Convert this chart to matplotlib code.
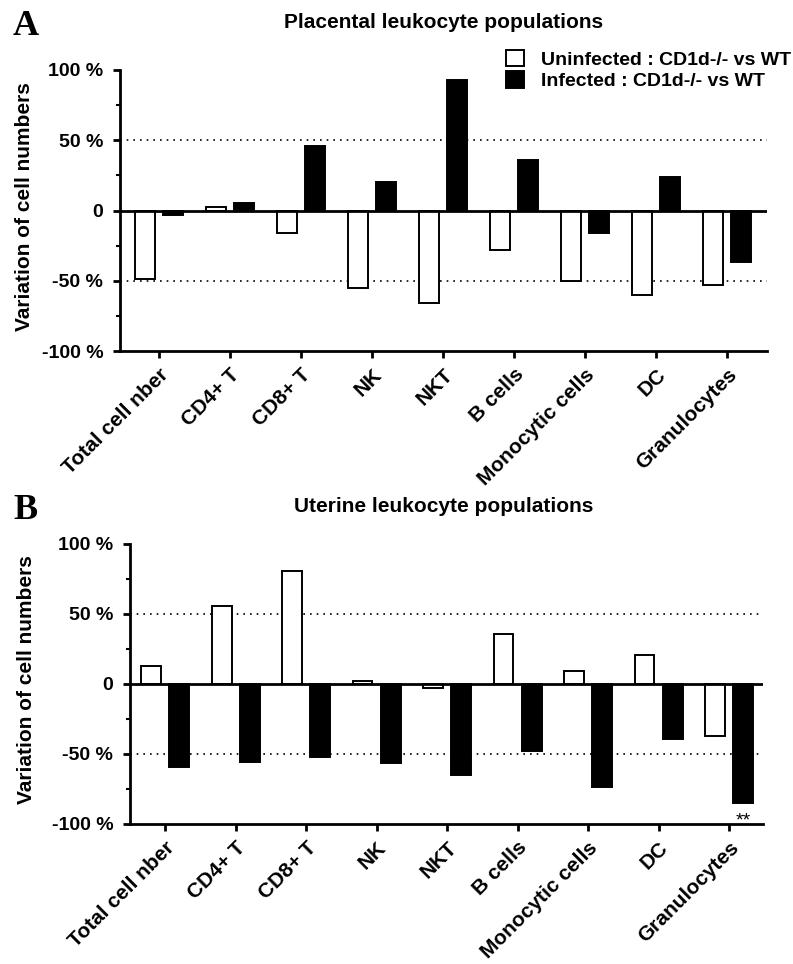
import matplotlib
matplotlib.use("Agg")
import matplotlib.pyplot as plt
import numpy as np

# categories and values (% variation CD1d-/- vs WT)
categories = ["Total cell nber", "CD4+ T", "CD8+ T", "NK", "NKT",
              "B cells", "Monocytic cells", "DC", "Granulocytes"]

placenta_uninf = [-49, 2.5, -16, -55, -66, -28, -50, -60, -53]
placenta_inf = [-3, 5, 46, 20, 93, 36, -16, 23.5, -37]

uterus_uninf = [13, 56, 81, 2, -3, 36, 9, 21, -37]
uterus_inf = [-59.5, -55.5, -52, -56.5, -65, -47.5, -73.5, -39, -85]

yticks = [-100, -50, 0, 50, 100]
ytick_labels = ["-100 %", "-50 %", "0", "50 %", "100 %"]

SANS = ["Liberation Sans", "DejaVu Sans"]
SERIF = ["Liberation Serif", "DejaVu Serif"]

plt.rcParams["font.family"] = SANS

W, H = 793, 964


def draw_panel(ax, uninf, inf, xlim):
    x = np.arange(len(categories))
    w = 0.28
    ax.bar(x - 0.2, uninf, w, color="white", edgecolor="black",
           linewidth=1.4, zorder=3, label="Uninfected : CD1d-/- vs WT")
    ax.bar(x + 0.2, inf, w, color="black", edgecolor="black",
           linewidth=1.4, zorder=3, label="Infected : CD1d-/- vs WT")

    ax.axhline(0, color="black", lw=2.0, zorder=4)
    for yv in (50, -50):
        ax.axhline(yv, color="black", lw=1.2, ls=(0, (1, 3)), zorder=1)

    ax.set_ylim(-100, 100)
    ax.set_xlim(*xlim)
    ax.set_yticks(yticks)
    ax.set_yticklabels(ytick_labels, fontsize=14, fontweight="bold")
    ax.set_yticks(np.arange(-75, 100, 50), minor=True)
    ax.set_xticks(x)
    ax.set_xticklabels(categories, rotation=45, ha="right",
                       rotation_mode="anchor", fontsize=15,
                       fontweight="bold")

    ax.tick_params(axis="y", which="major", direction="out", length=5,
                   width=2, pad=7)
    ax.tick_params(axis="x", which="major", direction="out", length=5,
                   width=2, pad=5)
    ax.tick_params(axis="y", which="minor", direction="out", length=3,
                   width=1.5)
    for s in ("top", "right"):
        ax.spines[s].set_visible(False)
    for s in ("left", "bottom"):
        ax.spines[s].set_linewidth(2.0)

    ax.set_ylabel("Variation of cell numbers", fontsize=15,
                  fontweight="bold")


fig = plt.figure(figsize=(W / 100, H / 100), dpi=100)

# panel A: placenta
ax1 = fig.add_axes([120 / W, 1 - 351 / H, (767 - 120) / W, (351 - 70) / H])
draw_panel(ax1, placenta_uninf, placenta_inf, (-0.55, 8.56))
ax1.yaxis.set_label_coords(-(120 - 34) / (767 - 120), 0.515)
fig.text(444 / W, 1 - 23 / H, "Placental leukocyte populations",
         ha="center", va="center", fontsize=15, fontweight="bold")
fig.legend(*ax1.get_legend_handles_labels(), loc="center left",
           bbox_to_anchor=(506 / W, 1 - 70 / H), borderaxespad=0,
           borderpad=0, frameon=False, handlelength=0.9, handleheight=0.9,
           handletextpad=0.9, labelspacing=0.15,
           prop={"size": 14, "weight": "bold"})

# panel B: uterus
ax2 = fig.add_axes([130 / W, 1 - 824 / H, (763 - 130) / W, (824 - 544) / H])
draw_panel(ax2, uterus_uninf, uterus_inf, (-0.5, 8.48))
ax2.yaxis.set_label_coords(-(130 - 36) / (763 - 130), 0.515)
fig.text(444 / W, 1 - 506 / H, "Uterine leukocyte populations",
         ha="center", va="center", fontsize=15, fontweight="bold")
ax2.text(8.2, -101, "**", ha="center", va="baseline", fontsize=14)

fig.text(13 / W, 1 - 10 / H, "A", family=SERIF, fontsize=26,
         fontweight="bold", va="top", ha="left")
fig.text(13 / W, 1 - 494 / H, "B", family=SERIF, fontsize=26,
         fontweight="bold", va="top", ha="left")

fig.savefig("out.png", dpi=100)
